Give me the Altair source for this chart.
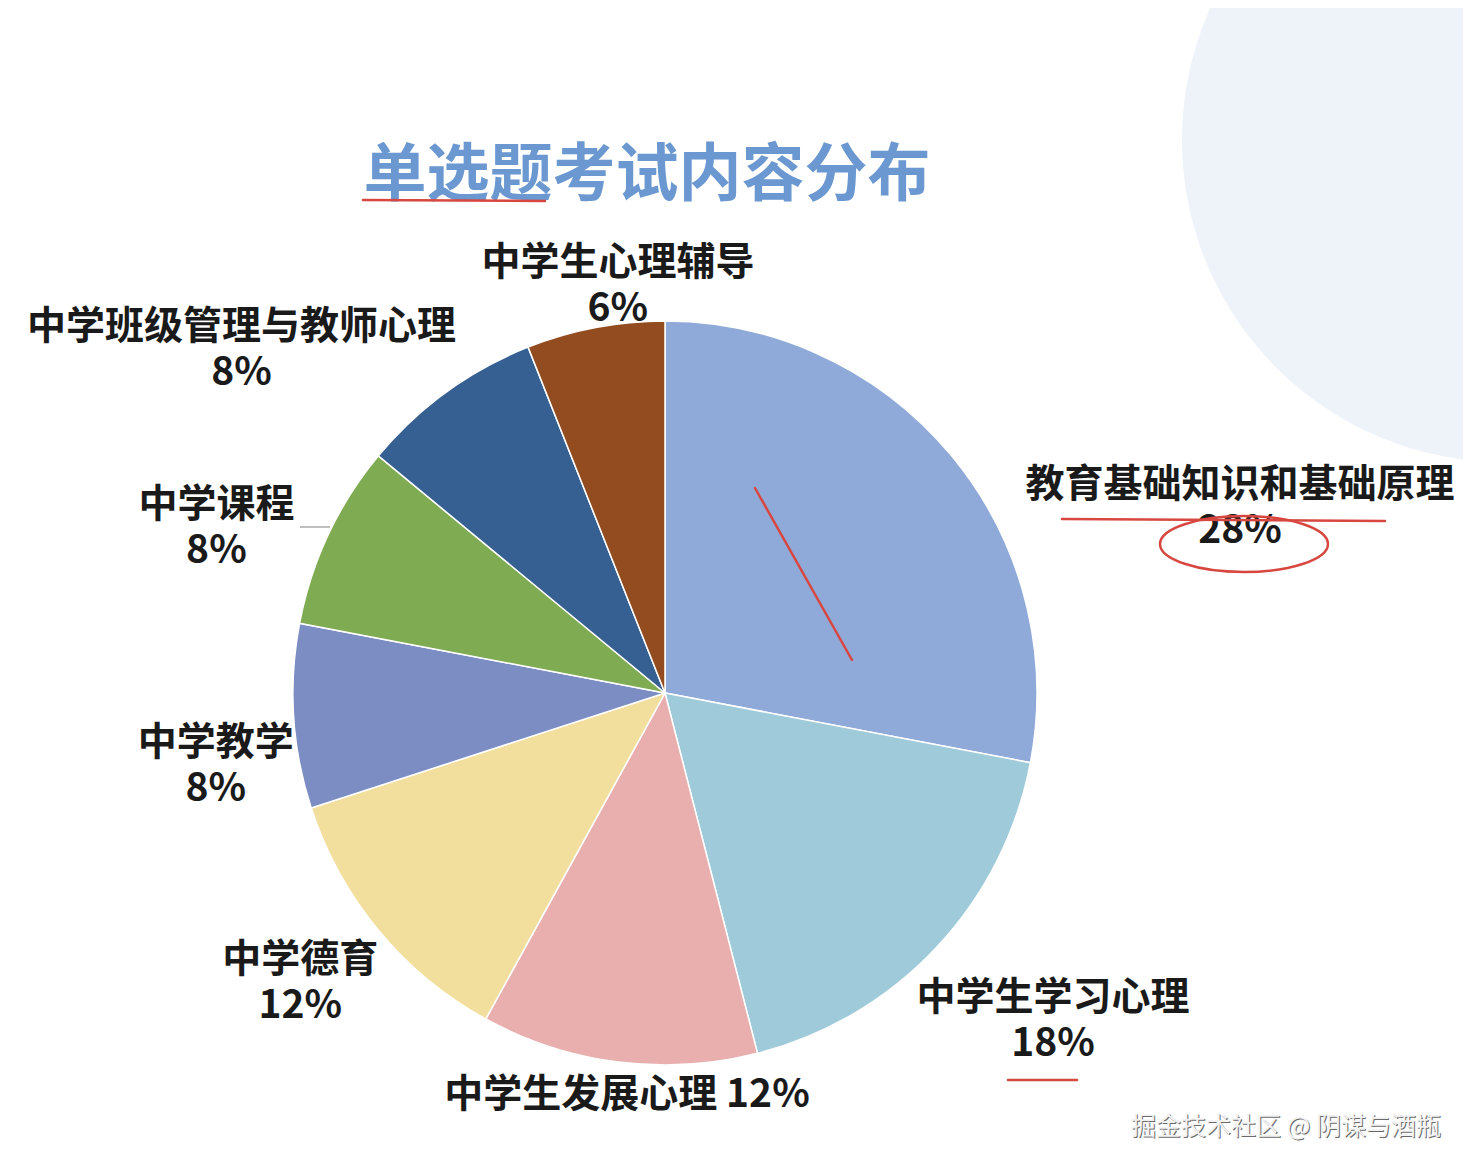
import math
import altair as alt
import pandas as pd

# ---------------- data ----------------
CATEGORIES = [
    "教育基础知识和基础原理",
    "中学生学习心理",
    "中学生发展心理",
    "中学德育",
    "中学教学",
    "中学课程",
    "中学班级管理与教师心理",
    "中学生心理辅导",
]
SHARES = [28, 18, 12, 12, 8, 8, 8, 6]
COLORS = ["#8FAAD9", "#9FCAD9", "#E8AFAE", "#F2DF9E", "#7B8DC2", "#7FAC52", "#365F92", "#934C1F"]
LABEL_TEXTS = [
    "教育基础知识和基础原理\n28%",
    "中学生学习心理\n18%",
    "中学生发展心理 12%",
    "中学德育\n12%",
    "中学教学\n8%",
    "中学课程\n8%",
    "中学班级管理与教师心理\n8%",
    "中学生心理辅导\n6%",
]
TITLE = "单选题考试内容分布"
WATERMARK = "掘金技术社区 @ 阴谋与酒瓶"

# ---------------- layout ----------------
W, H = 1455, 1150
CX, CY, R = 657, 685, 372
LABEL_ANGLE = [72.2, 130.2, 185.4, 231.5, 260.8, 290.2, 309.0, 353.4]
LABEL_DIST = [604, 508, 404, 466, 455, 478, 545, 410]
FONT = "Noto Sans CJK SC"
RED = "#D8473F"
LINE_H = 46

def first_line_y(a, d, txt):
    y = CY - d * math.cos(math.radians(a))
    n = txt.count("\n") + 1
    return y - (n - 1) * LINE_H / 2

pie_df = pd.DataFrame({"category": CATEGORIES, "share": SHARES, "idx": list(range(len(CATEGORIES)))})
lab_df = pd.DataFrame({
    "label": LABEL_TEXTS,
    "lx": [CX + d * math.sin(math.radians(a)) for a, d in zip(LABEL_ANGLE, LABEL_DIST)],
    "ly": [first_line_y(a, d, t) for a, d, t in zip(LABEL_ANGLE, LABEL_DIST, LABEL_TEXTS)],
})
one = pd.DataFrame({"t": [TITLE]})
wm = pd.DataFrame({"t": [WATERMARK]})

bg_circle = alt.Chart(one).mark_point(
    shape="circle", size=644 * 644, filled=True, color="#EEF3FA", opacity=1, strokeWidth=0
).encode(x=alt.value(1496), y=alt.value(132))

title = alt.Chart(one).mark_text(
    font=FONT, fontSize=63, fontWeight="bold", color="#6B98D0", align="center", baseline="middle"
).encode(text="t:N", x=alt.value(639), y=alt.value(168))

arcs = alt.Chart(pie_df).mark_arc(
    x=CX, y=CY, radius=R, stroke="white", strokeWidth=1.5
).encode(
    theta=alt.Theta("share:Q", stack=True),
    order=alt.Order("idx:Q"),
    color=alt.Color("category:N", scale=alt.Scale(domain=CATEGORIES, range=COLORS), legend=None),
)

labels = alt.Chart(lab_df).mark_text(
    font=FONT, fontSize=39, fontWeight="bold", color="#1A1A1A", align="center",
    baseline="middle", lineBreak="\n", lineHeight=LINE_H
).encode(
    x=alt.X("lx:Q", scale=None, axis=None),
    y=alt.Y("ly:Q", scale=None, axis=None),
    text="label:N",
)

leader = alt.Chart(one).mark_rule(color="#AAAAAA", strokeWidth=1.5).encode(
    x=alt.value(292), x2=alt.value(322), y=alt.value(519)
)

def red_rule(x1, y1, x2, y2):
    return alt.Chart(one).mark_rule(color=RED, strokeWidth=2.5, strokeCap="round").encode(
        x=alt.value(x1), y=alt.value(y1), x2=alt.value(x2), y2=alt.value(y2)
    )

ann = [
    red_rule(355, 192, 537, 193),
    red_rule(1054, 511, 1377, 513),
    red_rule(1000, 1072, 1069, 1072),
    red_rule(747, 480, 844, 652),
]
ellipse = alt.Chart(one).mark_point(
    shape="M -1 0 A 1 0.333 0 1 0 1 0 A 1 0.333 0 1 0 -1 0 Z",
    size=168 * 168, filled=False, stroke=RED, strokeWidth=2.5, opacity=1
).encode(x=alt.value(1236), y=alt.value(536))

wm_shadow = alt.Chart(wm).mark_text(
    font=FONT, fontSize=25, color="#6A6A6A", align="center", baseline="middle"
).encode(text="t:N", x=alt.value(1279), y=alt.value(1120))
wm_top = alt.Chart(wm).mark_text(
    font=FONT, fontSize=25, color="#F2F2F2", align="center", baseline="middle"
).encode(text="t:N", x=alt.value(1278), y=alt.value(1119))

chart = alt.layer(
    bg_circle, title, arcs, leader, labels, *ann, ellipse, wm_shadow, wm_top
).properties(
    width=W, height=H, padding=0, background="white",
    autosize=alt.AutoSizeParams(type="none"),
).configure_view(stroke=None)

chart.save("out.html", embed_options={"renderer": "svg", "actions": False})
